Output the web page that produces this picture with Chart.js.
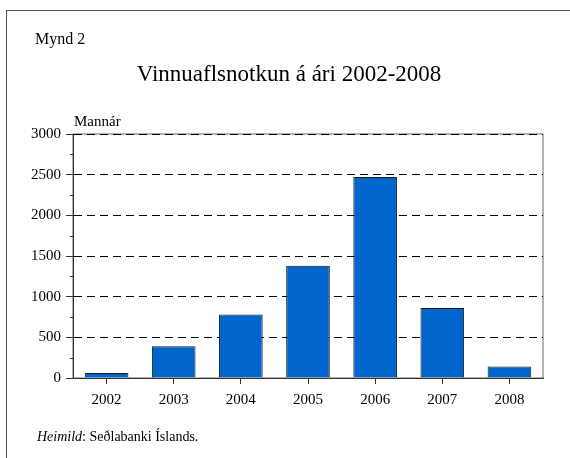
<!DOCTYPE html>
<html>
<head>
<meta charset="utf-8">
<script src="https://cdn.jsdelivr.net/npm/chart.js@4"></script>
<style>
  body { margin: 0; background: #fff; width: 570px; height: 458px; overflow: hidden; position: relative; font-family: "Liberation Serif", serif; color: #000; }
  #frame { position: absolute; left: 6px; top: 10px; width: 620px; height: 520px; border: 1px solid #555; }
  #chartBox { position: absolute; left: 0; top: 0; width: 570px; height: 458px; }
  .txt { position: absolute; white-space: nowrap; line-height: 1; }
  #mynd { left: 35px; top: 31px; font-size: 16px; }
  #title { left: 289px; top: 62px; font-size: 23px; transform: translateX(-50%); }
  #unit { left: 74px; top: 114px; font-size: 15px; }
  #source { left: 37px; top: 430px; font-size: 14px; }
</style>
</head>
<body>
<div id="frame"></div>
<div id="chartBox"><canvas id="barChart" width="570" height="458"></canvas></div>
<div class="txt" id="mynd">Mynd 2</div>
<div class="txt" id="title">Vinnuaflsnotkun á ári 2002-2008</div>
<div class="txt" id="unit">Mannár</div>
<div class="txt" id="source"><i>Heimild</i>: Seðlabanki Íslands.</div>
<script>
const years = ["2002", "2003", "2004", "2005", "2006", "2007", "2008"];
const manYears = [60, 390, 780, 1380, 2470, 860, 140];
const yTicks = [0, 500, 1000, 1500, 2000, 2500, 3000];

Chart.defaults.font.family = "'Liberation Serif', serif";
Chart.defaults.font.size = 15;
Chart.defaults.color = "#000";

// grey box round the plot + small minor ticks on the y axis
const frameAndMinor = {
    id: "frameAndMinor",
    beforeDraw(chart) {
        const { ctx, chartArea: a, scales: { y } } = chart;
        ctx.save();
        ctx.strokeStyle = "#666";
        ctx.lineWidth = 1;
        ctx.strokeRect(a.left, a.top, a.right - a.left, a.bottom - a.top);
        ctx.strokeStyle = "#333";
        for (let i = 0; i < yTicks.length - 1; i++) {
            const py = Math.round(y.getPixelForValue((yTicks[i] + yTicks[i + 1]) / 2)) + 0.5;
            ctx.beginPath();
            ctx.moveTo(a.left - 3, py);
            ctx.lineTo(a.left, py);
            ctx.stroke();
        }
        ctx.restore();
    }
};

new Chart(document.getElementById("barChart"), {
    type: "bar",
    data: {
        labels: years,
        datasets: [{
            data: manYears,
            backgroundColor: "#0066cc",
            borderColor: "#1a1a1a",
            borderWidth: 1,
            barPercentage: 0.65,
            categoryPercentage: 1
        }]
    },
    options: {
        responsive: false,
        animation: false,
        layout: { padding: { left: 28, top: 134, right: 27, bottom: 50 } },
        plugins: { legend: { display: false }, tooltip: { enabled: false } },
        scales: {
            x: {
                afterFit: s => { s.height = 30; },
                grid: { offset: false, drawOnChartArea: false, tickLength: 6, color: "#333" },
                border: { color: "#333", width: 1 },
                ticks: { padding: 7, maxRotation: 0 }
            },
            y: {
                min: 0,
                max: 3000,
                afterFit: s => { s.width = 45; },
                afterBuildTicks: s => { s.ticks = yTicks.map(v => ({ value: v })); },
                grid: {
                    color: c => (c.tick && c.tick.value === 0) ? "rgba(0,0,0,0)" : "#000",
                    tickColor: "#333",
                    tickLength: 7,
                    lineWidth: 1
                },
                border: { color: "#333", width: 1, dash: [8, 5] },
                ticks: { padding: 5, callback: v => String(v) }
            }
        }
    },
    plugins: [frameAndMinor]
});
</script>
</body>
</html>
